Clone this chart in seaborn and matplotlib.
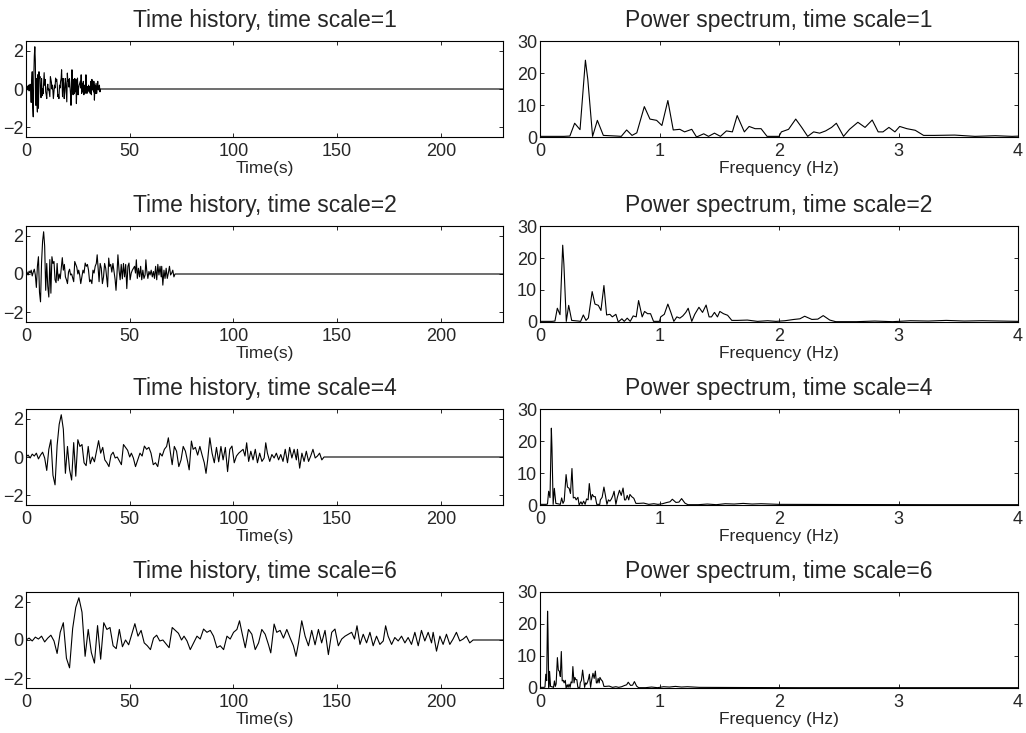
import numpy as np
import pandas as pd
import matplotlib
matplotlib.use("Agg")
import matplotlib.pyplot as plt
import seaborn as sns

WIDTH = 10.26
HEIGHT = 7.33

TIME_SCALES = [1, 2, 4, 6]
RECORD_END = 230  # padded record length (s)

base_time = [0.0, 0.25, 0.5, 0.75, 1.0, 1.25, 1.5, 1.75, 2.0, 2.25,
             2.5, 2.75, 3.0, 3.25, 3.5, 3.75, 4.0, 4.25, 4.5, 4.75,
             5.0, 5.25, 5.5, 5.75, 6.0, 6.25, 6.5, 6.75, 7.0, 7.25,
             7.5, 7.75, 8.0, 8.25, 8.5, 8.75, 9.0, 9.25, 9.5, 9.75,
             10.0, 10.25, 10.5, 10.75, 11.0, 11.25, 11.5, 11.75, 12.0, 12.25,
             12.5, 12.7, 12.94, 13.2, 13.47, 13.74, 14.0, 14.27, 14.54, 14.81,
             15.07, 15.34, 15.61, 15.88, 16.15, 16.41, 16.68, 16.95, 17.16, 17.35,
             17.62, 17.88, 18.15, 18.42, 18.69, 18.95, 19.22, 19.49, 19.67, 19.94,
             20.15, 20.42, 20.69, 20.96, 21.23, 21.49, 21.7, 21.9, 22.16, 22.43,
             22.7, 22.96, 23.23, 23.5, 23.76, 24.03, 24.3, 24.57, 24.83, 25.1,
             25.37, 25.64, 25.9, 26.17, 26.4, 26.6, 26.84, 27.1, 27.37, 27.64,
             27.9, 28.17, 28.44, 28.71, 28.9, 29.1, 29.38, 29.64, 29.91, 30.18,
             30.45, 30.71, 30.98, 31.25, 31.52, 31.78, 32.05, 32.32, 32.59, 32.72,
             32.99, 33.26, 33.52, 33.79, 34.06, 34.32, 34.59, 34.86, 35.13, 35.39,
             35.66, 35.93]
base_accel = [0.0, 0.1, -0.05, 0.15, 0.05, 0.2, -0.1, 0.1, 0.25, -0.05,
              -0.7, 0.4, 0.9, -0.95, -1.45, 0.6, 1.7, 2.2, 1.45, -0.85,
              0.55, -0.65, -1.2, 0.75, -1.0, 0.9, 0.55, 0.65, -0.3, -0.45,
              0.55, -0.35, 0.0, -0.25, 0.3, 0.85, 0.2, 0.5, -0.15, -0.3,
              -0.5, 0.1, 0.25, -0.05, 0.0, -0.2, -0.4, 0.65, 0.5, 0.35,
              0.0, 0.2, -0.05, -0.5, -0.15, 0.2, 0.05, 0.57, 0.4, 0.5,
              0.2, -0.4, -0.3, -0.5, 0.2, 0.05, 0.4, 0.55, 1.0, 0.4,
              -0.4, 0.55, 0.3, -0.5, -0.15, 0.55, 0.3, -0.25, -0.67, 0.83,
              0.4, 0.5, 0.1, 0.55, 0.1, -0.3, -0.85, -0.15, 1.0, 0.2,
              -0.3, 0.5, -0.25, 0.55, -0.15, 0.5, -0.76, 0.4, 0.57, -0.3,
              0.05, 0.2, 0.3, 0.4, 0.05, 0.74, -0.23, 0.3, -0.15, 0.4,
              -0.3, 0.2, -0.23, -0.05, 0.74, 0.2, -0.23, 0.13, -0.05, 0.2,
              -0.15, 0.13, -0.23, 0.4, -0.3, 0.5, -0.05, 0.4, -0.15, 0.4,
              -0.58, 0.2, -0.23, 0.3, -0.23, 0.05, 0.4, -0.05, 0.05, 0.2,
              -0.15, 0.0]

# base power spectrum (time scale = 1)
base_freq = [0.0, 0.1, 0.2, 0.25, 0.29, 0.335, 0.38, 0.40, 0.44, 0.48,
             0.53, 0.64, 0.68, 0.725, 0.77, 0.81, 0.873, 0.92, 0.976, 1.02,
             1.07, 1.115, 1.17, 1.21, 1.27, 1.31, 1.37, 1.41, 1.46, 1.51,
             1.56, 1.61, 1.65, 1.71, 1.75, 1.80, 1.85, 1.90, 2.0, 2.02,
             2.08, 2.14, 2.19, 2.24, 2.29, 2.34, 2.39, 2.44, 2.48, 2.54,
             2.59, 2.66, 2.72, 2.78, 2.83, 2.87, 2.92, 2.97, 3.01, 3.07,
             3.14, 3.21, 3.30, 3.47, 3.64, 3.81, 3.95, 4.1, 4.25, 4.35,
             4.43, 4.55, 4.65, 4.74, 4.85, 4.95, 5.3, 5.6, 5.9, 6.2,
             6.5, 6.8, 7.1, 7.4, 7.7, 8.0, 10.0, 13.0, 16.0, 20.0,
             24.0]
base_power = [0.2, 0.2, 0.2, 0.3, 4.3, 2.3, 24.0, 18.0, 0.2, 5.2,
              0.5, 0.3, 0.2, 2.2, 0.5, 1.3, 9.5, 5.6, 5.2, 3.6,
              11.4, 2.2, 2.4, 1.6, 2.4, 0.0, 1.0, 0.2, 1.2, 0.2,
              1.9, 1.6, 6.7, 1.6, 3.3, 2.6, 2.6, 0.2, 0.2, 1.6,
              2.4, 5.6, 3.0, 0.2, 1.6, 1.2, 1.9, 3.0, 4.3, 0.2,
              2.4, 4.6, 3.0, 5.3, 1.6, 1.6, 3.0, 1.6, 3.3, 2.6,
              2.1, 0.5, 0.5, 0.6, 0.2, 0.4, 0.2, 0.4, 0.8, 1.0,
              1.8, 0.8, 0.9, 2.0, 0.6, 0.1, 0.1, 0.3, 0.1, 0.4,
              0.3, 0.5, 0.3, 0.4, 0.3, 0.2, 0.15, 0.1, 0.1, 0.1,
              0.1]

# axes boxes in pixels: left column / right column, row tops
COL_LEFT = [26, 540]
COL_WIDTH = [477, 478]
ROW_TOP = [41, 226, 409, 592]
ROW_H = 96


def style_axes(ax):
    ax.tick_params(direction="in", top=True, right=True, length=3,
                   width=0.7, labelsize=13)
    ax.tick_params(axis="x", pad=4)
    ax.tick_params(axis="y", pad=2)
    for side in ax.spines.values():
        side.set_visible(True)
        side.set_linewidth(0.8)
        side.set_color("black")


def add_axes(fig, row, col):
    left = COL_LEFT[col] / (WIDTH * 100)
    width = COL_WIDTH[col] / (WIDTH * 100)
    bottom = 1 - (ROW_TOP[row] + ROW_H) / (HEIGHT * 100)
    return fig.add_axes([left, bottom, width, ROW_H / (HEIGHT * 100)])


def show_time(ax, scale):
    # stretch the record and pad with zeros to the record end
    t = [x * scale for x in base_time] + [RECORD_END]
    a = base_accel + [0.0]
    df = pd.DataFrame({"time": t, "accel": a})
    sns.lineplot(data=df, x="time", y="accel", ax=ax, color="black",
                 linewidth=0.8, estimator=None, sort=False)
    ax.set_xlim(0, RECORD_END)
    ax.set_ylim(-2.5, 2.5)
    ax.set_xticks([0, 50, 100, 150, 200])
    ax.set_yticks([-2, 0, 2])
    ax.set_xlabel("Time(s)", fontsize=12.5, labelpad=1)
    ax.set_ylabel("")
    ax.set_title("Time history, time scale=%d" % scale, fontsize=16.5, pad=10)
    style_axes(ax)


def show_spectrum(ax, scale):
    # stretching time by "scale" divides the frequencies by it
    df = pd.DataFrame({"freq": [f / scale for f in base_freq],
                       "power": base_power})
    sns.lineplot(data=df, x="freq", y="power", ax=ax, color="black",
                 linewidth=0.8, estimator=None, sort=False)
    ax.set_xlim(0, 4)
    ax.set_ylim(0, 30)
    ax.set_xticks([0, 1, 2, 3, 4])
    ax.set_yticks([0, 10, 20, 30])
    ax.set_xlabel("Frequency (Hz)", fontsize=12.5, labelpad=1)
    ax.set_ylabel("")
    ax.set_title("Power spectrum, time scale=%d" % scale, fontsize=16.5, pad=10)
    style_axes(ax)


sns.set_style("ticks")
plt.rcParams["font.family"] = ["Liberation Sans", "DejaVu Sans"]

fig = plt.figure(figsize=[WIDTH, HEIGHT], dpi=100)

for i, s in enumerate(TIME_SCALES):
    show_time(add_axes(fig, i, 0), s)
    show_spectrum(add_axes(fig, i, 1), s)

fig.savefig("out.png", dpi=100)
